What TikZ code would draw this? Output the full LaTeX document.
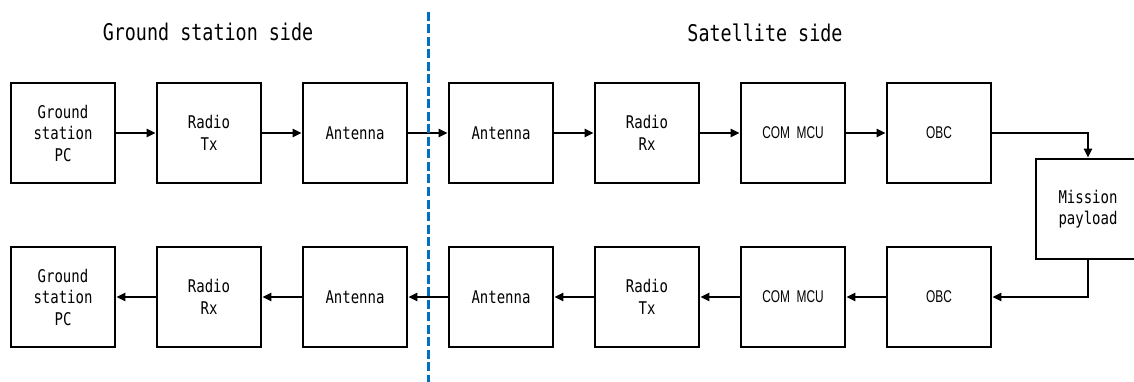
\documentclass[tikz,border=0pt]{standalone}
\usepackage{fontspec}
\usetikzlibrary{arrows.meta}
\newfontfamily\gothic[FakeStretch=0.8]{DejaVu Sans Mono}
\newfontfamily\narrowsans[FakeStretch=0.7]{Liberation Sans}
\definecolor{divblue}{RGB}{0,112,192}

\begin{document}
\begin{tikzpicture}[x=1pt,y=-1pt,
  block/.style={draw=black, line width=2.8pt, fill=white,
    minimum width=104pt, minimum height=100pt, inner sep=0pt,
    align=center, font=\gothic\fontsize{17.5}{21.5}\selectfont},
  narrowtext/.style={font=\narrowsans\fontsize{17}{21}\selectfont},
  flow/.style={line width=2.3pt, -{Triangle[length=9pt,width=8pt]}},
  heading/.style={font=\gothic\fontsize{23}{27}\selectfont}
]
\useasboundingbox (0,0) rectangle (1134,382);
\clip (0,0) rectangle (1134,382);

% section headings
\node[heading] (gtitle) at (208,32) {Ground station side};
\node[heading] (stitle) at (765,33) {Satellite side};

% uplink chain
\node[block] (gpcA) at (63,133)  {Ground\\station\\PC};
\node[block] (rtxA) at (209,133) {Radio\\Tx};
\node[block] (ganA) at (355,133) {Antenna};
\node[block] (sanA) at (501,133) {Antenna};
\node[block] (rrxA) at (647,133) {Radio\\Rx};
\node[block, narrowtext] (mcuA) at (793,133) {COM\ \ MCU};
\node[block, narrowtext] (obcA) at (939,133) {OBC};

% payload
\node[block] (pay) at (1088,209) {Mission\\payload};

% downlink chain
\node[block] (gpcB) at (63,297)  {Ground\\station\\PC};
\node[block] (rrxB) at (209,297) {Radio\\Rx};
\node[block] (ganB) at (355,297) {Antenna};
\node[block] (sanB) at (501,297) {Antenna};
\node[block] (rtxB) at (647,297) {Radio\\Tx};
\node[block, narrowtext] (mcuB) at (793,297) {COM\ \ MCU};
\node[block, narrowtext] (obcB) at (939,297) {OBC};

% uplink arrows
\draw[flow] (gpcA.east) -- (rtxA.west);
\draw[flow] (rtxA.east) -- (ganA.west);
\draw[flow] (ganA.east) -- (sanA.west);
\draw[flow] (sanA.east) -- (rrxA.west);
\draw[flow] (rrxA.east) -- (mcuA.west);
\draw[flow] (mcuA.east) -- (obcA.west);
\draw[flow] (obcA.east) -| (pay.north);

% downlink arrows
\draw[flow] (pay.south) |- (obcB.east);
\draw[flow] (obcB.west) -- (mcuB.east);
\draw[flow] (mcuB.west) -- (rtxB.east);
\draw[flow] (rtxB.west) -- (sanB.east);
\draw[flow] (sanB.west) -- (ganB.east);
\draw[flow] (ganB.west) -- (rrxB.east);
\draw[flow] (rrxB.west) -- (gpcB.east);

% ground / satellite divider
\coordinate (divtop) at (428,12);
\coordinate (divbot) at (428,382);
\draw[divblue, line width=3pt, dash pattern=on 9pt off 3.5pt] (divtop) -- (divbot);
\end{tikzpicture}
\end{document}
